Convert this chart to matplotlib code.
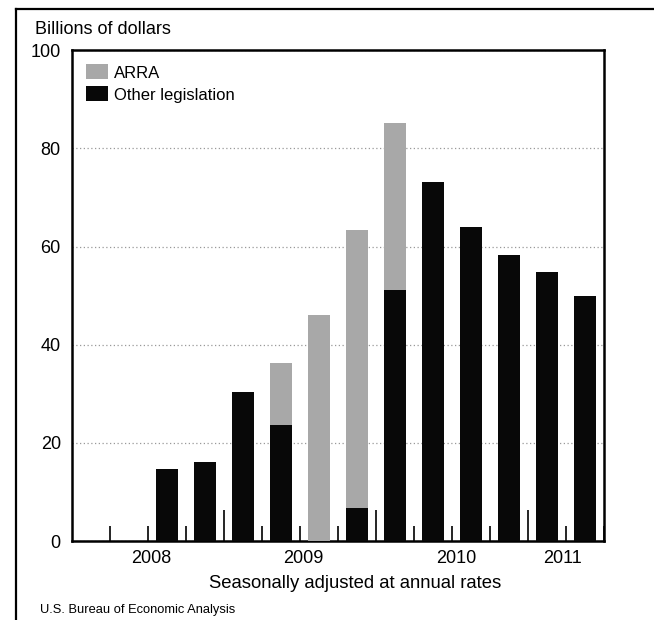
import numpy as np
import matplotlib
matplotlib.use("Agg")
import matplotlib.pyplot as plt
from matplotlib.lines import Line2D
from matplotlib.patches import Patch

plt.rcParams['font.family'] = ['Liberation Sans', 'DejaVu Sans']

# quarters 2008Q1 .. 2011Q2
quarters = ['2008Q1', '2008Q2', '2008Q3', '2008Q4',
            '2009Q1', '2009Q2', '2009Q3', '2009Q4',
            '2010Q1', '2010Q2', '2010Q3', '2010Q4',
            '2011Q1', '2011Q2']
other = [0, 0, 14.7, 16.1, 30.4, 23.7, 0, 6.7, 51.2, 73.1, 64.0, 58.2, 54.8, 49.9]
arra = [0, 0, 0, 0, 0, 12.6, 46.1, 56.6, 33.9, 0, 0, 0, 0, 0]
years = ['2008', '2009', '2010', '2011']
year_pos = [1.6, 5.6, 9.6, 12.4]

x = np.arange(len(quarters))

fig = plt.figure(figsize=(6.54, 6.2), dpi=100)
ax = fig.add_axes([0.110, 0.1274, 0.8135, 0.7916])

ax.bar(x, other, width=0.6, color='#080808', zorder=3)
ax.bar(x, arra, width=0.6, bottom=other, color='#a8a8a8', zorder=3)

ax.set_xlim(-0.5, 13.5)
ax.set_ylim(0, 100)
ax.set_yticks([0, 20, 40, 60, 80, 100])
ax.tick_params(axis='y', length=0, labelsize=13, pad=8)
ax.yaxis.grid(True, linestyle=(0, (1, 2)), color='#999999', linewidth=0.9)
ax.set_axisbelow(True)

# quarter boundary ticks, taller at year boundaries
ax.set_xticks([3.5, 7.5, 11.5])
ax.set_xticks([b + 0.5 for b in range(14) if b not in (3, 7, 11)], minor=True)
ax.tick_params(axis='x', which='major', direction='in', length=22, width=1.2, labelbottom=False)
ax.tick_params(axis='x', which='minor', direction='in', length=11, width=1.2, labelbottom=False)

for s in ax.spines.values():
    s.set_linewidth(1.8)

for yr, p in zip(years, year_pos):
    ax.text(p, -0.035, yr, transform=ax.get_xaxis_transform(), ha='center', va='center', fontsize=13)

handles = [Patch(facecolor='#a8a8a8', label='ARRA'), Patch(facecolor='#080808', label='Other legislation')]
ax.legend(handles=handles, loc='upper left', frameon=False, fontsize=12,
          handlelength=1.3, handleheight=1.0, handletextpad=0.35, labelspacing=0.35,
          borderaxespad=0.45)

fig.text(35 / 654, 1 - 30 / 620, 'Billions of dollars', ha='left', va='center', fontsize=13)
fig.text(355 / 654, 1 - 583 / 620, 'Seasonally adjusted at annual rates', ha='center', va='center', fontsize=13.3)
fig.text(40 / 654, 1 - 610 / 620, 'U.S. Bureau of Economic Analysis', ha='left', va='center', fontsize=9.3)

# outer frame (cropped at right and bottom)
fig.add_artist(Line2D([16 / 654, 1], [1 - 9 / 620, 1 - 9 / 620], color='black', linewidth=1.6))
fig.add_artist(Line2D([16 / 654, 16 / 654], [0, 1 - 9 / 620], color='black', linewidth=1.6))

fig.savefig('out.png', dpi=100)
